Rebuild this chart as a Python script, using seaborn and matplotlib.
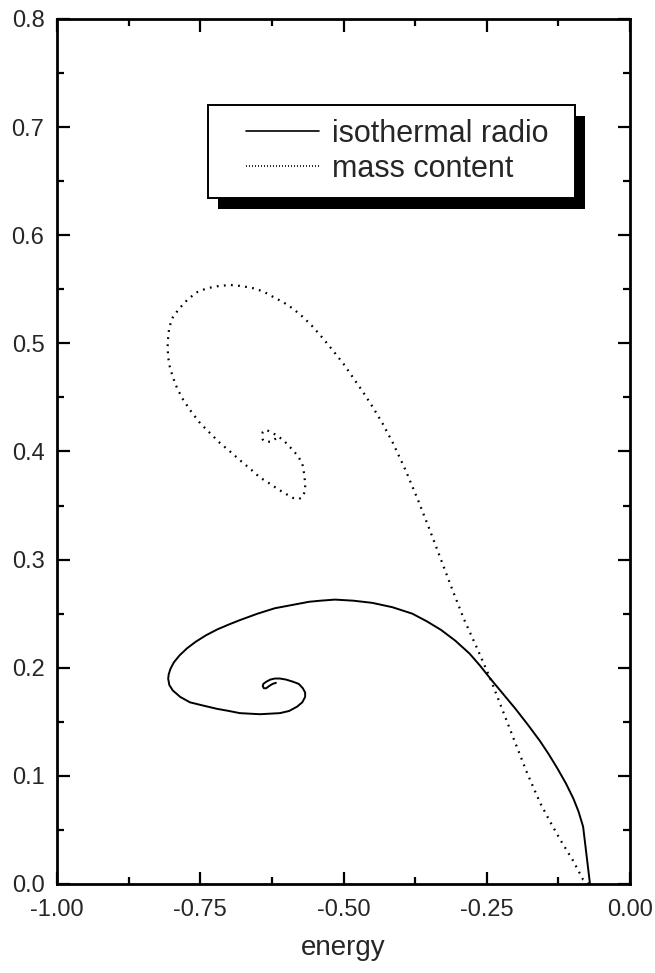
import numpy as np
import pandas as pd
import seaborn as sns
import matplotlib.pyplot as plt
from matplotlib.patches import Rectangle

# isothermal radio (solid), from the outer end at the x axis spiralling in
iso_x = [-0.070, -0.082, -0.090, -0.099, -0.112, -0.127, -0.142, -0.157, -0.178,
         -0.200, -0.222, -0.244, -0.262, -0.280, -0.305, -0.330, -0.355, -0.380,
         -0.415, -0.450, -0.483, -0.515, -0.540, -0.560, -0.590, -0.620, -0.650,
         -0.681, -0.700, -0.720, -0.740, -0.758, -0.773, -0.786, -0.796, -0.802,
         -0.805, -0.806, -0.804, -0.798, -0.785, -0.768, -0.745, -0.721, -0.700,
         -0.681, -0.646, -0.611, -0.595, -0.581, -0.572, -0.567, -0.567, -0.571,
         -0.578, -0.588, -0.600, -0.611, -0.620, -0.628, -0.635, -0.640, -0.641,
         -0.639, -0.635, -0.630, -0.624, -0.618]
iso_y = [0.000, 0.053, 0.067, 0.079, 0.093, 0.107, 0.120, 0.132, 0.147,
         0.162, 0.176, 0.190, 0.202, 0.213, 0.225, 0.235, 0.243, 0.250,
         0.256, 0.260, 0.262, 0.263, 0.262, 0.261, 0.258, 0.255, 0.250,
         0.244, 0.240, 0.2355, 0.230, 0.224, 0.218, 0.2115, 0.205, 0.199,
         0.194, 0.190, 0.184, 0.179, 0.173, 0.168, 0.165, 0.162, 0.160,
         0.158, 0.157, 0.158, 0.160, 0.164, 0.168, 0.173, 0.177, 0.181,
         0.185, 0.187, 0.189, 0.190, 0.190, 0.189, 0.187, 0.185, 0.183,
         0.181, 0.181, 0.183, 0.185, 0.186]

# mass content (dotted)
mass_x = [-0.072, -0.082, -0.100, -0.122, -0.140, -0.157, -0.180, -0.200, -0.222,
          -0.244, -0.267, -0.290, -0.310, -0.330, -0.350, -0.370, -0.392, -0.414,
          -0.432, -0.449, -0.466, -0.483, -0.500, -0.518, -0.535, -0.553, -0.570,
          -0.588, -0.605, -0.623, -0.640, -0.658, -0.678, -0.698, -0.718, -0.738,
          -0.757, -0.773, -0.787, -0.798, -0.804, -0.806, -0.807, -0.806, -0.803,
          -0.798, -0.790, -0.780, -0.766, -0.750, -0.733, -0.716, -0.698, -0.681,
          -0.663, -0.646, -0.628, -0.611, -0.598, -0.588, -0.578, -0.571, -0.567,
          -0.567, -0.569, -0.572, -0.580, -0.588, -0.597, -0.606, -0.615, -0.623,
          -0.631, -0.637, -0.641, -0.642, -0.641, -0.637, -0.631, -0.625, -0.616]
mass_y = [0.000, 0.004, 0.022, 0.041, 0.058, 0.075, 0.103, 0.130, 0.160,
          0.190, 0.218, 0.245, 0.272, 0.300, 0.328, 0.355, 0.383, 0.408,
          0.426, 0.441, 0.455, 0.468, 0.481, 0.493, 0.504, 0.515, 0.524,
          0.532, 0.538, 0.543, 0.548, 0.551, 0.553, 0.554, 0.553, 0.551,
          0.547, 0.540, 0.532, 0.524, 0.515, 0.506, 0.497, 0.487, 0.478,
          0.469, 0.458, 0.448, 0.437, 0.426, 0.417, 0.408, 0.400, 0.392,
          0.384, 0.376, 0.370, 0.364, 0.360, 0.357, 0.356, 0.358, 0.364,
          0.371, 0.380, 0.389, 0.396, 0.401, 0.406, 0.411, 0.414, 0.417,
          0.419, 0.420, 0.418, 0.415, 0.411, 0.409, 0.409, 0.409, 0.413]

xticks = [-1.00, -0.75, -0.50, -0.25, 0.00]
yticks = [0.0, 0.1, 0.2, 0.3, 0.4, 0.5, 0.6, 0.7, 0.8]

sns.set_style("ticks")
plt.rcParams['font.family'] = ['Liberation Sans', 'DejaVu Sans']

fig = plt.figure(figsize=(6.55, 9.73), dpi=100)
ax = fig.add_axes([0.087, 0.0915, 0.875, 0.889])

iso = pd.DataFrame({"energy": iso_x, "value": iso_y})
mass = pd.DataFrame({"energy": mass_x, "value": mass_y})

sns.lineplot(data=iso, x="energy", y="value", sort=False, estimator=None,
             color="black", linewidth=1.4, ax=ax, label="isothermal radio")
sns.lineplot(data=mass, x="energy", y="value", sort=False, estimator=None,
             color="black", linewidth=1.6, linestyle=(0, (0.8, 2.4)), ax=ax,
             label="mass content")

ax.set_xlim(-1.0, 0.0)
ax.set_ylim(0.0, 0.8)
ax.set_xticks(xticks)
ax.set_xticklabels(["%.2f" % t for t in xticks])
ax.set_yticks(yticks)
ax.set_yticklabels(["%.1f" % t for t in yticks])
ax.set_xticks(np.arange(-0.875, 0, 0.25), minor=True)
ax.set_yticks(np.arange(0.05, 0.8, 0.1), minor=True)
ax.tick_params(which="both", direction="in", top=True, right=True, width=1.6,
               labelsize=17, color="black")
ax.tick_params(which="major", length=9)
ax.tick_params(which="minor", length=5)
ax.tick_params(axis="x", pad=11)
ax.tick_params(axis="y", pad=9)
for s in ax.spines.values():
    s.set_linewidth(2.0)
    s.set_color("black")
    s.set_visible(True)

ax.set_xlabel("energy", fontsize=20, labelpad=10)
ax.set_ylabel("")

leg = ax.legend(loc="center left", bbox_to_anchor=(0.330, 0.847),
                borderaxespad=0, borderpad=0, fontsize=22, frameon=False,
                handlelength=2.39, handletextpad=0.42, labelspacing=0.17)
for h in leg.get_lines():
    h.set_linewidth(1.2)
leg.get_lines()[1].set_linestyle((0, (0.6, 1.2)))

# white framed box with a black drop shadow behind the legend
fig.canvas.draw()
bb = leg.get_window_extent()
x0, x1 = bb.x0 - 38, bb.x1 + 27
y0, y1 = bb.y0 - 14, bb.y1 + 14
inv = ax.transAxes.inverted()
(ax0, ay0), (ax1, ay1) = inv.transform([(x0, y0), (x1, y1)])
(sx, sy) = inv.transform([(x0 + 10, y0 - 11)])[0]
ax.add_patch(Rectangle((sx, sy), ax1 - ax0, ay1 - ay0, transform=ax.transAxes,
                       facecolor="black", edgecolor="none", zorder=4.5,
                       clip_on=False))
ax.add_patch(Rectangle((ax0, ay0), ax1 - ax0, ay1 - ay0, transform=ax.transAxes,
                       facecolor="white", edgecolor="black", linewidth=1.4,
                       zorder=4.8, clip_on=False))

fig.savefig("out.png", dpi=100)
